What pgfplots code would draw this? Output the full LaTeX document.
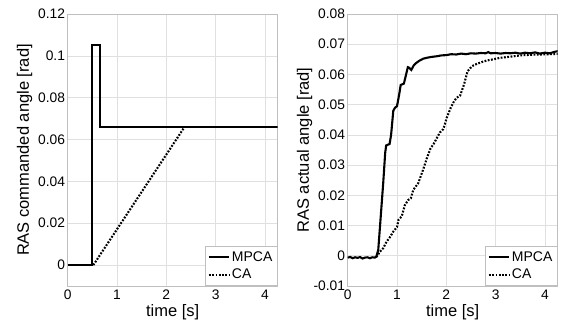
\documentclass[border=0pt]{standalone}
\usepackage{pgfplots}
\pgfplotsset{compat=1.18}
\usepackage{fontspec}
\setmainfont{Liberation Sans}
\definecolor{gridc}{gray}{0.88}
\definecolor{axc}{gray}{0.75}
\pgfplotsset{
  myax/.style={
    scale only axis, width=210pt, height=272pt,
    xmin=0, xmax=4.26,
    xtick={0,1,2,3,4}, xticklabels={0,1,2,3,4},
    scaled y ticks=false,
    grid=major, major grid style={draw=gridc, line width=0.6pt},
    axis line style={draw=axc, line width=0.6pt},
    major tick length=0pt,
    tick label style={font=\fontsize{13.8}{15}\selectfont},
    yticklabel style={inner sep=2.5pt},
    xticklabel style={inner sep=4pt},
    label style={font=\fontsize{16.5}{18}\selectfont},
    xlabel={time [s]},
    xlabel style={at={(axis description cs:0.5,-0.095)}, anchor=center},
    ylabel style={at={(axis description cs:-0.205,0.5)}, anchor=center},
    legend style={at={(rel axis cs:1,0)}, anchor=south east, draw=axc,
      font=\fontsize{14}{16}\selectfont, inner xsep=3pt, inner ysep=3.5pt,
      row sep=2pt, line width=0.6pt},
    legend cell align=left,
    legend image code/.code={\draw[#1] (0pt,0pt) -- (20pt,0pt);},
  },
  mp/.style={black, no marks, line width=2.1pt, solid},
  ca/.style={black, no marks, line width=2.1pt, dash pattern=on 1.8pt off 1.5pt, line cap=butt},
}
\begin{document}
\begin{tikzpicture}
\path[use as bounding box] (0,0) rectangle (561pt,322pt);
\begin{axis}[myax, at={(67.7pt,36pt)}, anchor=south west,
  ymin=-0.01, ymax=0.12,
  ytick={0,0.02,0.04,0.06,0.08,0.1,0.12},
  yticklabels={0,0.02,0.04,0.06,0.08,0.1,0.12},
  ylabel={RAS commanded angle [rad]}]
\addplot[mp] coordinates {(0,0) (0.5,0) (0.5,0.105) (0.65,0.105) (0.65,0.066) (4.3,0.066)};
\addlegendentry{MPCA}
\addplot[ca] coordinates {(0.52,0) (2.37,0.066)};
\addlegendentry{CA}
\end{axis}
\begin{axis}[myax, at={(347.7pt,36pt)}, anchor=south west,
  ymin=-0.01, ymax=0.08,
  ytick={-0.01,0,0.01,0.02,0.03,0.04,0.05,0.06,0.07,0.08},
  yticklabels={-0.01,0,0.01,0.02,0.03,0.04,0.05,0.06,0.07,0.08},
  ylabel={RAS actual angle [rad]}]
\addplot[mp] table {
0 -0.0006
0.05 -0.0004
0.1 -0.0008
0.15 -0.0005
0.2 -0.0007
0.25 -0.0004
0.3 -0.0009
0.35 -0.0006
0.4 -0.0005
0.45 -0.0008
0.5 -0.0005
0.55 -0.0006
0.58 -0.0003
0.62 0.002
0.67 0.013
0.72 0.024
0.76 0.034
0.78 0.0365
0.85 0.037
0.88 0.040
0.925 0.048
0.96 0.049
1.0 0.0495
1.04 0.053
1.075 0.0565
1.14 0.0570
1.17 0.059
1.22 0.0624
1.25 0.0622
1.29 0.0615
1.34 0.063
1.39 0.0638
1.45 0.0645
1.53 0.0652
1.6 0.0655
1.7 0.0658
1.8 0.0660
1.9 0.0663
2.0 0.0664
2.1 0.0667
2.2 0.0666
2.3 0.0669
2.4 0.0667
2.5 0.0670
2.6 0.0669
2.7 0.0671
2.8 0.0670
2.85 0.0674
2.9 0.0670
3.0 0.0671
3.1 0.0669
3.2 0.0671
3.3 0.0670
3.4 0.0672
3.5 0.0669
3.6 0.0672
3.7 0.0670
3.8 0.0673
3.9 0.0669
4.0 0.0672
4.1 0.0670
4.2 0.0675
4.26 0.0677
};
\addlegendentry{MPCA}
\addplot[ca] table {
0.58 -0.0004
0.6 0.0
0.655 0.0014
0.72 0.0025
0.79 0.0047
0.85 0.006
0.925 0.008
1.0 0.0095
1.03 0.0119
1.095 0.013
1.16 0.0168
1.23 0.0185
1.28 0.019
1.33 0.0218
1.43 0.024
1.53 0.0285
1.61 0.0325
1.68 0.0355
1.75 0.0372
1.87 0.0408
1.94 0.0419
2.01 0.0457
2.09 0.049
2.16 0.0512
2.21 0.0523
2.28 0.053
2.36 0.0567
2.43 0.061
2.48 0.062
2.55 0.063
2.62 0.0635
2.72 0.0641
2.82 0.0646
2.95 0.0650
3.09 0.0655
3.2 0.0657
3.36 0.0660
3.5 0.0663
3.7 0.0665
3.9 0.0666
4.1 0.0667
4.26 0.0668
};
\addlegendentry{CA}
\end{axis}
\end{tikzpicture}
\end{document}
